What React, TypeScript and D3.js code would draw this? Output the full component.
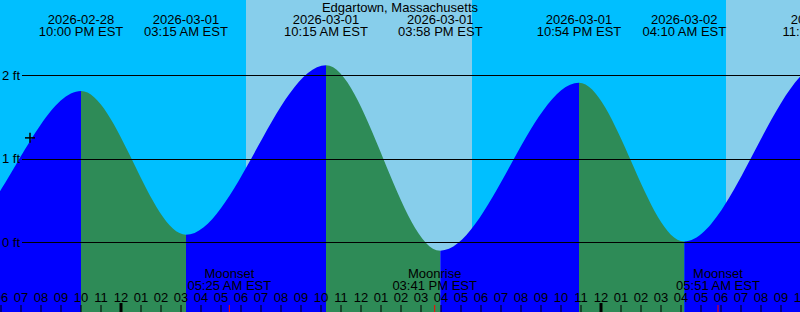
import React from "react";
import * as d3 from "d3";

const W = 800;
const H = 312;

const stationName = "Edgartown, Massachusetts";
const domainTimes = ["2026-02-28 17:57", "2026-03-02 09:57"];

const tideTimes = [
  "2026-02-28 09:40",
  "2026-02-28 15:30",
  "2026-02-28 22:00",
  "2026-03-01 03:15",
  "2026-03-01 10:15",
  "2026-03-01 15:58",
  "2026-03-01 22:54",
  "2026-03-02 04:10",
  "2026-03-02 11:09",
  "2026-03-02 17:00",
];
const tideHeights = [2.0, 0.05, 1.81, 0.09, 2.12, -0.1, 1.91, 0.01, 2.15, -0.1];

const sunriseTimes = ["2026-03-01 06:15", "2026-03-02 06:15"];
const sunsetTimes = ["2026-03-01 17:33", "2026-03-02 17:34"];

const moonEventNames = ["Moonset", "Moonrise", "Moonset"];
const moonEventTimes = ["2026-03-01 05:25", "2026-03-01 15:41", "2026-03-02 05:51"];

const levelTicks = [0, 1, 2];

const nowTime = "2026-02-28 19:27";
const nowHeight = 1.25;

const parse = d3.utcParse("%Y-%m-%d %H:%M");
const fmtDate = d3.utcFormat("%Y-%m-%d");
const fmtTime = d3.utcFormat("%I:%M %p EST");
const fmtHour = d3.utcFormat("%I");

const FONT = "'Liberation Sans', Arial, sans-serif";

export default function App() {
  const x = d3
    .scaleUtc()
    .domain(domainTimes.map((s) => parse(s) as Date))
    .range([0, W]);
  const y = d3.scaleLinear().domain([0, 2]).range([242.3, 75.2]);

  const tides = tideTimes.map((t, i) => ({ t: parse(t) as Date, h: tideHeights[i] }));

  const area = d3
    .area<{ t: Date; h: number }>()
    .x((d) => x(d.t))
    .y0(H)
    .y1((d) => y(d.h))
    .curve(d3.curveMonotoneX);

  const areaPath = area(tides) || "";

  const segments = tides.slice(0, -1).map((d, i) => {
    const n = tides[i + 1];
    return { x0: x(d.t), x1: x(n.t), rising: n.h > d.h };
  });

  const labelledTides = tides.filter((d) => x(d.t) > -40 && x(d.t) < W + 40);

  const days = sunriseTimes.map((s, i) => ({
    x0: x(parse(s) as Date),
    x1: x(parse(sunsetTimes[i]) as Date),
  }));

  const hours = d3
    .utcHour.range(d3.utcHour.offset(x.domain()[0], -1), d3.utcHour.offset(x.domain()[1], 1))
    .filter((h) => x(h) > -6 && x(h) < W + 6);

  const moons = moonEventTimes.map((s, i) => ({ t: parse(s) as Date, name: moonEventNames[i] }));
  const nowT = parse(nowTime) as Date;

  return (
    <svg
      width={W}
      height={H}
      style={{ position: "fixed", left: 0, top: 0, display: "block" }}
      fontFamily={FONT}
      fontSize={13}
    >
      <defs>
        <clipPath id="tideClip">
          <path d={areaPath} />
        </clipPath>
      </defs>
      <rect x={0} y={0} width={W} height={H} fill="#00BFFF" />
      {days.map((d, i) => (
        <rect key={i} x={d.x0} y={0} width={d.x1 - d.x0} height={H} fill="#87CEEB" />
      ))}
      <g clipPath="url(#tideClip)">
        {segments.map((s, i) => (
          <rect
            key={i}
            x={s.x0}
            y={0}
            width={s.x1 - s.x0}
            height={H}
            fill={s.rising ? "#0000FF" : "#2E8B57"}
          />
        ))}
      </g>
      {levelTicks.map((v) => (
        <g key={v}>
          <line x1={22} x2={W} y1={Math.round(y(v)) + 0.5} y2={Math.round(y(v)) + 0.5} stroke="#000" strokeWidth={1} />
          <text x={2} y={y(v) + 4.7} fill="#000">
            {v} ft
          </text>
        </g>
      ))}
      <text x={W / 2} y={12} textAnchor="middle" fill="#000">
        {stationName}
      </text>
      {labelledTides.map((d, i) => (
        <g key={i}>
          <text x={x(d.t)} y={24} textAnchor="middle" fill="#000">
            {fmtDate(d.t)}
          </text>
          <text x={x(d.t)} y={36} textAnchor="middle" fill="#000">
            {fmtTime(d.t)}
          </text>
        </g>
      ))}
      {moons.map((m, i) => (
        <g key={i}>
          <text x={x(m.t)} y={278} textAnchor="middle" fill="#000">
            {m.name}
          </text>
          <text x={x(m.t)} y={290} textAnchor="middle" fill="#000">
            {fmtTime(m.t)}
          </text>
        </g>
      ))}
      {hours.map((h, i) => {
        const xx = x(h);
        const midnight = h.getUTCHours() === 0;
        return (
          <g key={i}>
            <text x={xx} y={302} textAnchor="middle" fill="#000">
              {fmtHour(h)}
            </text>
            <line
              x1={xx}
              x2={xx}
              y1={midnight ? 303 : 305}
              y2={H}
              stroke="#000"
              strokeWidth={midnight ? 3 : 1}
            />
          </g>
        );
      })}
      {moons.map((m, i) => (
        <line key={i} x1={x(m.t)} x2={x(m.t)} y1={305} y2={H} stroke="#FF0000" strokeWidth={1} />
      ))}
      <g stroke="#000" strokeWidth={1.5}>
        <line x1={x(nowT) - 5} x2={x(nowT) + 5} y1={y(nowHeight)} y2={y(nowHeight)} />
        <line x1={x(nowT)} x2={x(nowT)} y1={y(nowHeight) - 5} y2={y(nowHeight) + 5} />
      </g>
    </svg>
  );
}
